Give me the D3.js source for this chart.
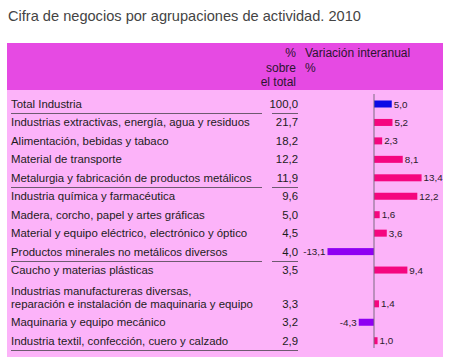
<!DOCTYPE html>
<html><head><meta charset="utf-8">
<script src="https://cdn.jsdelivr.net/npm/d3@7"></script>
<style>
html,body{margin:0;padding:0;background:#fff;}
svg{display:block;}
text{font-family:"Liberation Sans",Arial,sans-serif;}
</style></head>
<body>
<script>
const title = "Cifra de negocios por agrupaciones de actividad. 2010";
const categories = [
  ["Total Industria"],
  ["Industrias extractivas, energía, agua y residuos"],
  ["Alimentación, bebidas y tabaco"],
  ["Material de transporte"],
  ["Metalurgia y fabricación de productos metálicos"],
  ["Industria química y farmacéutica"],
  ["Madera, corcho, papel y artes gráficas"],
  ["Material y equipo eléctrico, electrónico y óptico"],
  ["Productos minerales no metálicos diversos"],
  ["Caucho y materias plásticas"],
  ["Industrias manufactureras diversas,", "reparación e instalación de maquinaria y equipo"],
  ["Maquinaria y equipo mecánico"],
  ["Industria textil, confección, cuero y calzado"]
];
const shareOfTotal = [100.0, 21.7, 18.2, 12.2, 11.9, 9.6, 5.0, 4.5, 4.0, 3.5, 3.3, 3.2, 2.9];
const yearOnYear = [5.0, 5.2, 2.3, 8.1, 13.4, 12.2, 1.6, 3.6, -13.1, 9.4, 1.4, -4.3, 1.0];
const colHeaderShare = ["%", "sobre", "el total"];
const colHeaderVar = ["Variación interanual", "%"];
const separatorAfter = [0, 4, 8, 12];

const fmt = v => d3.format(".1f")(v).replace(".", ",").replace("\u2212", "-");

const W = 450, H = 363;
const svg = d3.select("body").append("svg").attr("width", W).attr("height", H);

svg.append("text").attr("x", 8).attr("y", 21).attr("font-size", 14.6)
  .attr("fill", "#444").text(title);

// panel
const panel = {x: 7, y: 43, w: 436, h: 314, headH: 47};
svg.append("rect").attr("x", panel.x).attr("y", panel.y).attr("width", panel.w).attr("height", panel.h)
  .attr("fill", "#fcb3f9");
svg.append("rect").attr("x", panel.x).attr("y", panel.y).attr("width", panel.w).attr("height", panel.headH)
  .attr("fill", "#e64ae3");

// header text
const hdr = svg.append("g").attr("font-size", 12).attr("fill", "#2c1530");
colHeaderShare.forEach((t, i) => hdr.append("text").attr("x", 296).attr("y", 57 + i * 14.5)
  .attr("text-anchor", "end").text(t));
colHeaderVar.forEach((t, i) => hdr.append("text").attr("x", 305).attr("y", 57 + i * 14.5).text(t));

// row layout: slot units
const extraWrap = 0.83;
const slots = [];
let acc = 0;
categories.forEach((c, i) => { acc += (c.length - 1) * extraWrap; slots.push(i + acc); });
const y = d3.scaleLinear().domain([0, 1]).range([104, 104 + 18.45]);
const wrapLine = 12.5;

const x = d3.scaleLinear().domain([0, 10]).range([374, 374 + 35.5]);

const rows = svg.append("g");
categories.forEach((lines, i) => {
  const yc = y(slots[i]);
  lines.forEach((t, j) => {
    rows.append("text").attr("x", 11).attr("y", yc + 4 - (lines.length - 1 - j) * wrapLine)
      .attr("font-size", 11.4).attr("fill", "#1c1c1c").text(t);
  });
  rows.append("text").attr("x", 298).attr("y", yc + 4).attr("text-anchor", "end")
    .attr("font-size", 11.4).attr("fill", "#1c1c1c").text(fmt(shareOfTotal[i]));
});

// separators
const sepG = svg.append("g").attr("stroke", "#6e5a70").attr("stroke-width", 1);
separatorAfter.forEach(i => {
  const ys = Math.round(y(slots[i]) + 9) + 0.5;
  if (i === categories.length - 1) {
    sepG.append("line").attr("x1", 11).attr("x2", 298).attr("y1", ys).attr("y2", ys);
  } else {
    sepG.append("line").attr("x1", 11).attr("x2", 262).attr("y1", ys).attr("y2", ys);
    sepG.append("line").attr("x1", 272).attr("x2", 298).attr("y1", ys).attr("y2", ys);
  }
});

// bars
const barH = 7;
const bars = svg.append("g");
yearOnYear.forEach((v, i) => {
  const yc = y(slots[i]);
  const color = i === 0 ? "#0a0ae6" : (v < 0 ? "#8e00f2" : "#f5067f");
  bars.append("rect").attr("x", Math.min(x(0), x(v))).attr("y", yc - barH / 2)
    .attr("width", Math.abs(x(v) - x(0))).attr("height", barH).attr("fill", color);
  bars.append("text").attr("x", v < 0 ? x(v) - 2 : x(v) + 2).attr("y", yc + 3.5)
    .attr("text-anchor", v < 0 ? "end" : "start").attr("font-size", 9.8).attr("fill", "#2a1a2a")
    .text(fmt(v));
});

// axis line
svg.append("line").attr("x1", x(0)).attr("x2", x(0)).attr("y1", 94).attr("y2", 348)
  .attr("stroke", "#7a6a80").attr("stroke-width", 1);
</script>
</body></html>
